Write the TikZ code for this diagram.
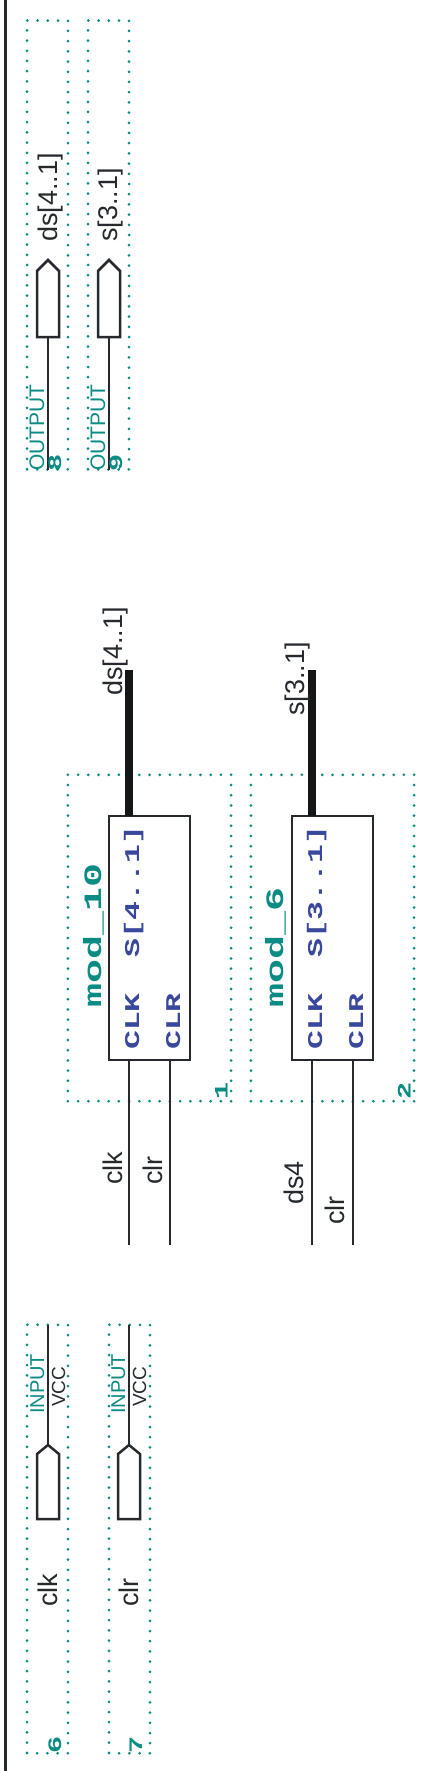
\documentclass[tikz,border=0pt]{standalone}
\usepackage{fontspec}
\setmainfont{Liberation Sans}
\newfontfamily\modfont[FakeStretch=1.6]{Liberation Mono}
\newfontfamily\portfont[FakeStretch=1.5]{Liberation Mono}
\usetikzlibrary{positioning}
\definecolor{MaxTeal}{RGB}{10,140,132}
\definecolor{MaxBlue}{RGB}{58,72,155}
\definecolor{MaxLine}{RGB}{38,42,46}
\definecolor{MaxBus}{RGB}{20,22,24}

\begin{document}
\begin{tikzpicture}[x=1pt, y=-1pt,
          lbl/.style={rotate=90, anchor=base west, inner sep=0pt, MaxLine,
                      font=\fontsize{27}{27}\selectfont},
          prim/.style={rotate=90, anchor=base west, inner sep=0pt, MaxTeal,
                      font=\fontsize{21}{21}\selectfont},
          vcc/.style={rotate=90, anchor=base west, inner sep=0pt, MaxLine,
                      font=\fontsize{19}{19}\selectfont},
          modname/.style={rotate=90, anchor=base west, inner sep=0pt, MaxTeal,
                      font=\modfont\bfseries\fontsize{25}{25}\selectfont},
          port/.style={rotate=90, anchor=base west, inner sep=0pt, MaxBlue,
                      font=\portfont\bfseries\fontsize{21}{21}\selectfont},
          num/.style={rotate=90, anchor=base west, inner sep=0pt, MaxTeal,
                      font=\portfont\bfseries\fontsize{19}{19}\selectfont},
          frame/.style={rectangle, draw=MaxTeal, inner sep=0pt, outer sep=0pt,
                      line width=3pt, line cap=round,
                      dash pattern=on 0pt off 10.2pt},
          modbox/.style={rectangle, draw=MaxLine, fill=white, line width=2.5pt,
                      inner sep=0pt, outer sep=0pt, minimum width=81pt, minimum height=244pt},
          wire/.style={draw=MaxLine, line width=2.5pt},
          bus/.style={draw=MaxBus, line width=8pt},
          pin/.style={draw=MaxLine, line width=2.5pt, line join=miter}
        ]
        \useasboundingbox (0,0) rectangle (438,1771);
        \fill[white] (0,0) rectangle (438,1771);

        % Page edge
        \coordinate (edgetop) at (5,0);
        \coordinate (edgebot) at (5,1771);
        \draw[MaxLine, line width=3pt] (edgetop)--(edgebot);

        % Output pins (top)
        \foreach \n/\x/\lblx/\lbl in {8/48/57/{ds[4..1]}, 9/109/117/{s[3..1]}} {
          \node[frame, minimum width=41pt, minimum height=448.8pt] (fo\n) at (\x-0.5,245) {};
          \coordinate (ot\n) at (\x,260);
          \coordinate (ob\n) at (\x,337);
          \coordinate (oe\n) at (\x,470);
          \draw[pin] (ot\n) -- ++(11,11) -- ++(0,66) -- ++(-22,0) -- ++(0,-66) -- cycle;
          \draw[wire] (ob\n)--(oe\n);
          \node[lbl] (ol\n) at (\lblx,242) {\lbl};
          \node[prim] (op\n) at (\x-4,471) {OUTPUT};
          \node[num] (on\n) at (\x+13,472) {\n};
        }

        % Module blocks (middle)
        \foreach \m/\cx/\wa/\wb/\nx/\nam/\bits/\nno in
            {a/149.5/129/170/101/mod\_10/{S[4..1]}/1, b/332.5/312/353/283/mod\_6/{S[3..1]}/2} {
          \node[frame, minimum width=163.2pt, minimum height=326.4pt] (f\m) at (\cx,938) {};
          \node[modbox] (m\m) at (\cx,938) {};
          \coordinate (top\m) at (\wa,670);
          \coordinate (ck\m) at (\wa,1245);
          \coordinate (cl\m) at (\wb,1245);
          \draw[bus] (top\m)--(\wa,816);
          \draw[wire] (ck\m)--(\wa,1060);
          \draw[wire] (cl\m)--(\wb,1060);
          \node[modname] (n\m) at (\nx,1008) {\nam};
          \node[port] (pc\m) at (\wa+10,1050) {CLK};
          \node[port] (ps\m) at (\wa+10,958) {\bits};
          \node[port] (pr\m) at (\wb+10,1050) {CLR};
          \node[num] (no\m) at (\cx+78,1100) {\nno};
        }
        \node[lbl] (la) at (122,696) {ds[4..1]};
        \node[lbl] (lb) at (304,716) {s[3..1]};
        \node[lbl] (lc) at (122,1185) {clk};
        \node[lbl] (ld) at (162,1185) {clr};
        \node[lbl] (le) at (303,1205) {ds4};
        \node[lbl] (lf) at (344,1225) {clr};

        % Input pins (bottom)
        \foreach \n/\x/\fx/\lblx/\lbl/\nno in {a/48/47.5/57/clk/6, b/129/129.5/138/clr/7} {
          \node[frame, minimum width=41pt, minimum height=428.4pt] (fi\n) at (\fx,1539) {};
          \coordinate (it\n) at (\x,1445);
          \coordinate (ie\n) at (\x,1325);
          \draw[pin] (it\n) -- ++(11,9) -- ++(0,65) -- ++(-22,0) -- ++(0,-65) -- cycle;
          \draw[wire] (it\n)--(ie\n);
          \node[prim, font=\fontsize{20}{20}\selectfont] (ip\n) at (\x-4,1414) {INPUT};
          \node[vcc] (iv\n) at (\x+17,1407) {VCC};
          \node[lbl] (il\n) at (\lblx,1607) {\lbl};
          \node[num] (in\n) at (\x+13,1754) {\nno};
        }
      \end{tikzpicture}
\end{document}
